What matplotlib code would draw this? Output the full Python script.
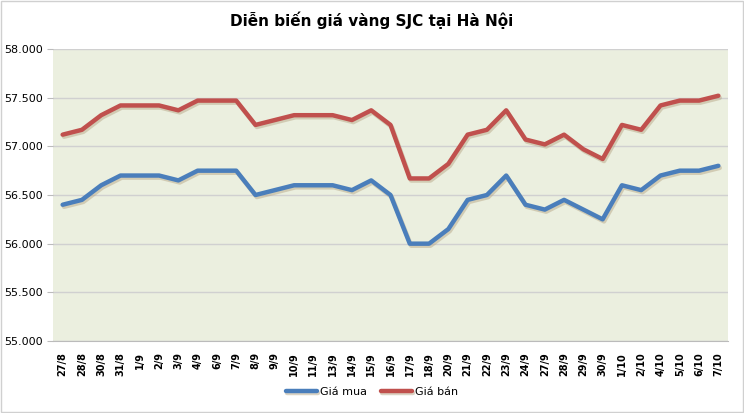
import matplotlib
matplotlib.use("Agg")
import matplotlib.pyplot as plt
import matplotlib.patheffects as pe
from matplotlib.ticker import FuncFormatter, MultipleLocator

dates = ["27/8", "28/8", "30/8", "31/8", "1/9", "2/9", "3/9", "4/9", "6/9", "7/9",
         "8/9", "9/9", "10/9", "11/9", "13/9", "14/9", "15/9", "16/9", "17/9", "18/9",
         "20/9", "21/9", "22/9", "23/9", "24/9", "27/9", "28/9", "29/9", "30/9", "1/10",
         "2/10", "4/10", "5/10", "6/10", "7/10"]
gia_mua = [56400, 56450, 56600, 56700, 56700, 56700, 56650, 56750, 56750, 56750,
           56500, 56550, 56600, 56600, 56600, 56550, 56650, 56500, 56000, 56000,
           56150, 56450, 56500, 56700, 56400, 56350, 56450, 56350, 56250, 56600,
           56550, 56700, 56750, 56750, 56800]
gia_ban = [57120, 57170, 57320, 57420, 57420, 57420, 57370, 57470, 57470, 57470,
           57220, 57270, 57320, 57320, 57320, 57270, 57370, 57220, 56670, 56670,
           56820, 57120, 57170, 57370, 57070, 57020, 57120, 56970, 56870, 57220,
           57170, 57420, 57470, 57470, 57520]

fig = plt.figure(figsize=(7.44, 4.13), dpi=100)
ax = fig.add_axes([53 / 744, 1 - 341 / 413, 675 / 744, 292 / 413])
ax.set_facecolor("#ebefdf")

shadow = [pe.SimpleLineShadow(offset=(1, -1.5), shadow_color="#b8a888", alpha=0.5), pe.Normal()]
x = range(len(dates))
ax.plot(x, gia_mua, color="#4a7ebb", lw=3.2, solid_capstyle="round", label="Giá mua", path_effects=shadow)
ax.plot(x, gia_ban, color="#c0504d", lw=3.2, solid_capstyle="round", label="Giá bán", path_effects=shadow)

ax.set_xlim(-0.5, len(dates) - 0.5)
ax.set_ylim(55000, 58000)
ax.yaxis.set_major_locator(MultipleLocator(500))
ax.yaxis.set_major_formatter(FuncFormatter(lambda v, p: f"{int(v):,}".replace(",", ".")))
ax.grid(axis="y", color="#d0d0d0", lw=1)
ax.set_axisbelow(True)
ax.set_xticks(list(x))
ax.set_xticklabels(dates, rotation=90, fontsize=7, fontweight="bold")
ax.tick_params(axis="y", labelsize=8, length=4, color="#bbbbbb")
ax.tick_params(axis="x", length=0, pad=8)
for s in ["top", "right", "left"]:
    ax.spines[s].set_visible(False)
ax.spines["bottom"].set_color("#bbbbbb")

fig.text(0.5, 1 - 20 / 413, "Diễn biến giá vàng SJC tại Hà Nội", ha="center", va="center",
         fontsize=11, fontweight="bold")
fig.legend(loc="center", bbox_to_anchor=(0.5, 1 - 392 / 413), ncol=2, frameon=False,
           fontsize=8, handlelength=2.8, columnspacing=1.2, handletextpad=0.3)

border = plt.Rectangle((0.001, 0.002), 0.997, 0.996, transform=fig.transFigure, fill=False,
                       edgecolor="#d0d0d0", lw=1)
fig.patches.append(border)

fig.savefig("out.png", dpi=100)
